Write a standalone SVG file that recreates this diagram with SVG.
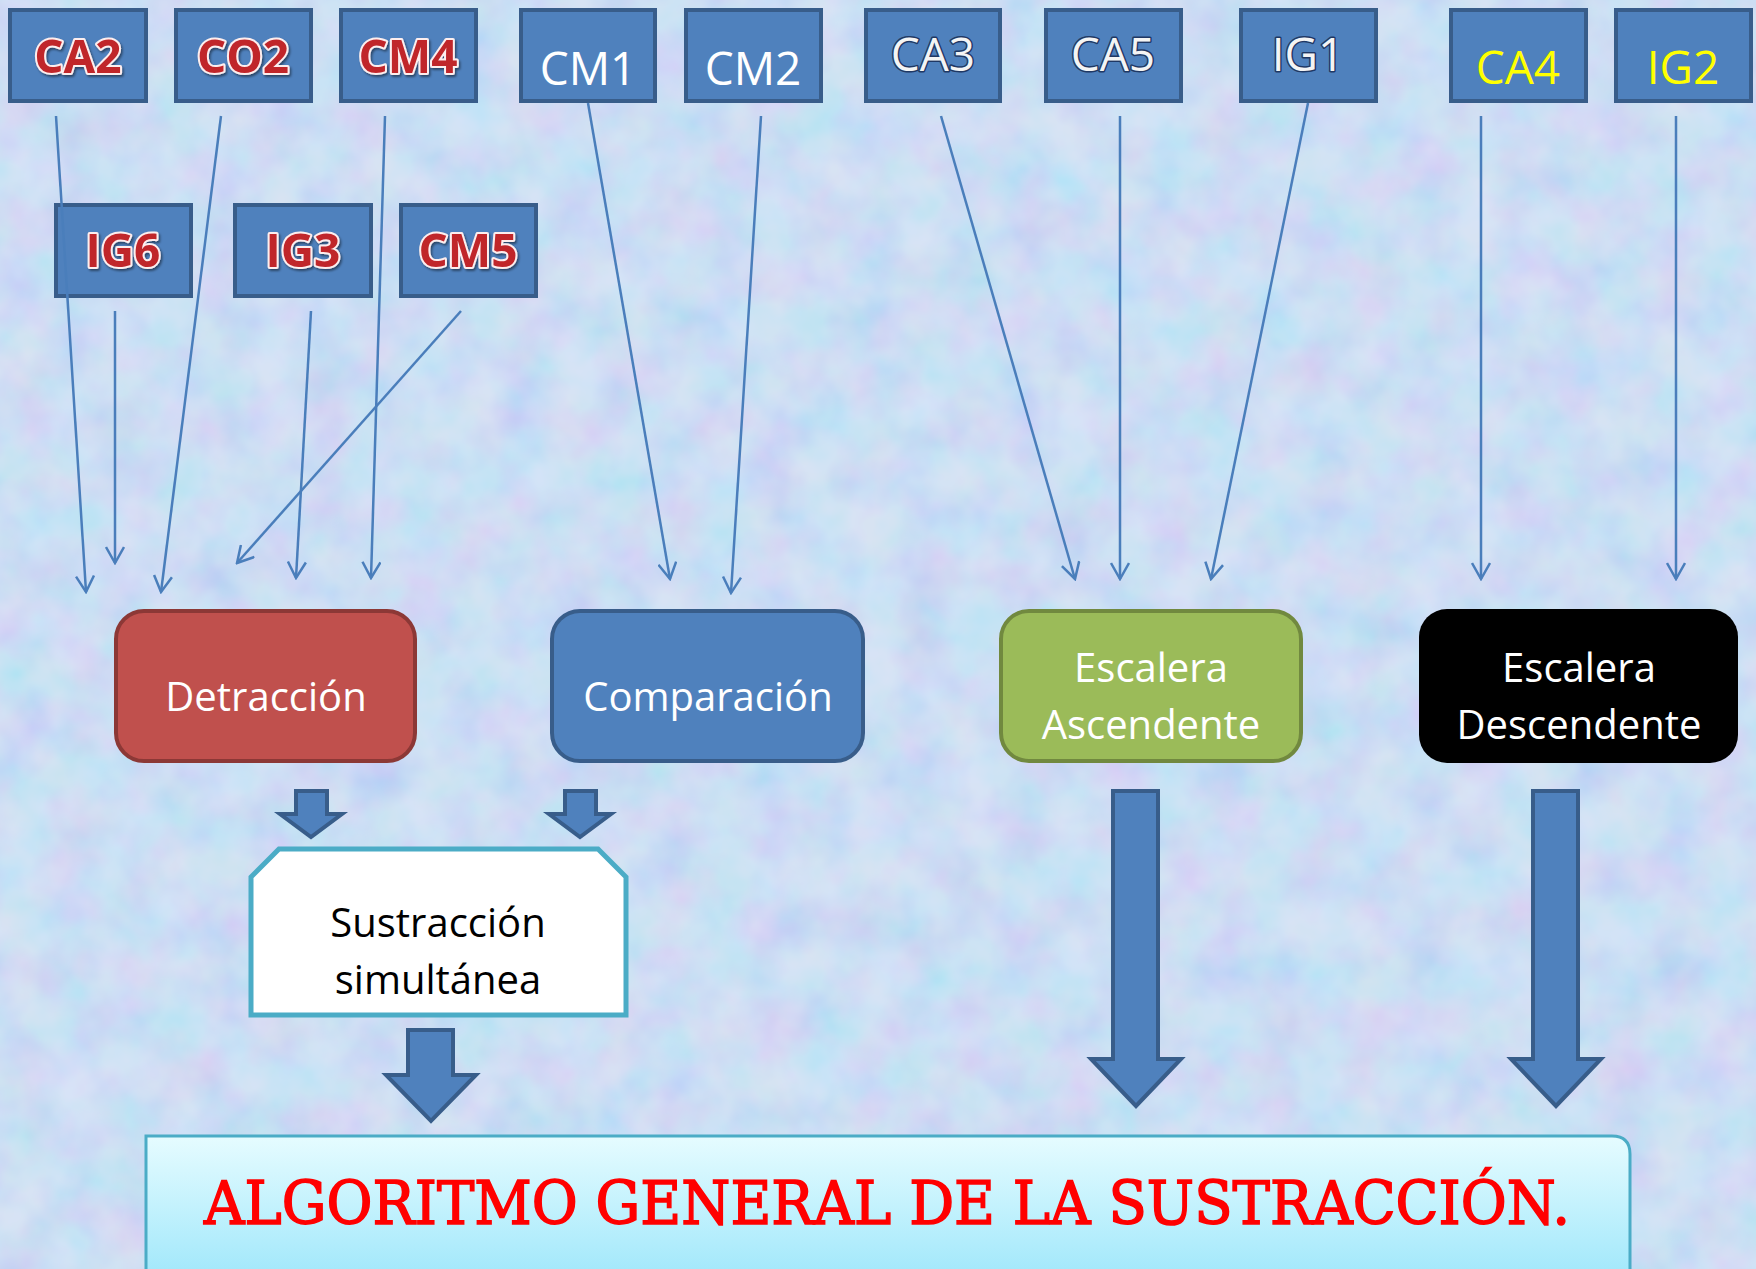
<svg xmlns="http://www.w3.org/2000/svg" width="1756" height="1269" viewBox="0 0 1756 1269">
<defs>
<filter id="tex" x="0" y="0" width="100%" height="100%" filterUnits="userSpaceOnUse">
<feTurbulence type="fractalNoise" baseFrequency="0.02" numOctaves="3" seed="7" result="n"/>
<feColorMatrix in="n" type="matrix" values="1.1 0 0 0 0.15  0 0.9 0 0 0.4  0 0 0.3 0 0.75  0 0 0 0 0.3"/>
</filter>
<filter id="wshadow" x="-20%" y="-30%" width="140%" height="160%">
<feDropShadow dx="1.5" dy="2" stdDeviation="1.2" flood-color="#000" flood-opacity="0.45"/>
</filter>
<linearGradient id="titleGrad" x1="0" y1="0" x2="0" y2="1">
<stop offset="0" stop-color="#e6fcff"/>
<stop offset="1" stop-color="#a2e8fb"/>
</linearGradient>
<marker id="open" viewBox="0 0 20 20" markerUnits="userSpaceOnUse" markerWidth="20" markerHeight="20" refX="18" refY="10" orient="auto">
<path d="M2,1 L18,10 L2,19" fill="none" stroke="#4a7ebb" stroke-width="2.5"/>
</marker>
<style>
.box{fill:#4f81bd;stroke:#385d8a;stroke-width:4}
.lbl{font-family:"Open Sans","Liberation Sans",sans-serif;font-size:46px;text-anchor:middle}
.red{font-weight:bold;fill:#c0262c;stroke:#fdeeee;stroke-width:4;paint-order:stroke fill;stroke-linejoin:round}
.wo{fill:#f4f4f4;stroke:#1f3864;stroke-width:3;paint-order:stroke fill;stroke-linejoin:round}
.wh{fill:#ffffff}
.ye{fill:#ffff00}
.node{font-family:"Open Sans","Liberation Sans",sans-serif;font-size:40px;text-anchor:middle}
.blk{fill:#4f81bd;stroke:#385d8a;stroke-width:4;stroke-linejoin:miter}
.con{fill:none;stroke:#4a7ebb;stroke-width:2.5;marker-end:url(#open)}
</style>
</defs>
<rect x="0" y="0" width="1756" height="1269" fill="#c6d7f4"/>
<rect x="0" y="0" width="1756" height="1269" filter="url(#tex)"/>

<g id="CA2"><rect class="box" x="10" y="10" width="136" height="91"/><text class="lbl red" x="78" y="73" filter="url(#wshadow)">CA2</text></g>
<g id="CO2"><rect class="box" x="176" y="10" width="135" height="91"/><text class="lbl red" x="243" y="73" filter="url(#wshadow)">CO2</text></g>
<g id="CM4"><rect class="box" x="341" y="10" width="135" height="91"/><text class="lbl red" x="408" y="73" filter="url(#wshadow)">CM4</text></g>
<g id="CM1"><rect class="box" x="521" y="10" width="134" height="91"/><text class="lbl wh" x="588" y="85">CM1</text></g>
<g id="CM2"><rect class="box" x="686" y="10" width="135" height="91"/><text class="lbl wh" x="753" y="85">CM2</text></g>
<g id="CA3"><rect class="box" x="866" y="10" width="134" height="91"/><text class="lbl wo" x="933" y="71">CA3</text></g>
<g id="CA5"><rect class="box" x="1046" y="10" width="135" height="91"/><text class="lbl wo" x="1113" y="71">CA5</text></g>
<g id="IG1"><rect class="box" x="1241" y="10" width="135" height="91"/><text class="lbl wo" x="1308" y="71">IG1</text></g>
<g id="CA4"><rect class="box" x="1451" y="10" width="135" height="91"/><text class="lbl ye" x="1518" y="84">CA4</text></g>
<g id="IG2"><rect class="box" x="1616" y="10" width="135" height="91"/><text class="lbl ye" x="1683" y="84">IG2</text></g>

<g id="IG6"><rect class="box" x="56" y="205" width="135" height="91"/><text class="lbl red" x="123" y="267" filter="url(#wshadow)">IG6</text></g>
<g id="IG3"><rect class="box" x="235" y="205" width="136" height="91"/><text class="lbl red" x="303" y="267" filter="url(#wshadow)">IG3</text></g>
<g id="CM5"><rect class="box" x="401" y="205" width="135" height="91"/><text class="lbl red" x="468" y="267" filter="url(#wshadow)">CM5</text></g>

<g id="Detraccion"><rect x="116" y="611" width="299" height="150" rx="28" ry="28" fill="#c0504d" stroke="#8c3836" stroke-width="4"/><text class="node wh" x="266" y="711">Detracción</text></g>
<g id="Comparacion"><rect x="552" y="611" width="311" height="150" rx="28" ry="28" fill="#4f81bd" stroke="#385d8a" stroke-width="4"/><text class="node wh" x="708" y="711">Comparación</text></g>
<g id="EscaleraAscendente"><rect x="1001" y="611" width="300" height="150" rx="28" ry="28" fill="#9bbb59" stroke="#71893f" stroke-width="4"/><text class="node wh" x="1151" y="682">Escalera</text><text class="node wh" x="1151" y="739">Ascendente</text></g>
<g id="EscaleraDescendente"><rect x="1419" y="609" width="319" height="154" rx="28" ry="28" fill="#000000"/><text class="node wh" x="1579" y="682">Escalera</text><text class="node wh" x="1579" y="739">Descendente</text></g>

<g id="SustraccionSimultanea"><path d="M279,849 L598,849 L626,877 L626,1015 L251,1015 L251,877 Z" fill="#ffffff" stroke="#4bacc6" stroke-width="5" stroke-linejoin="miter"/><text class="node" x="438" y="937" fill="#000">Sustracción</text><text class="node" x="438" y="994" fill="#000">simultánea</text></g>

<g id="Titulo"><path d="M146,1136 L1612,1136 Q1630,1136 1630,1154 L1630,1275 L146,1275 Z" fill="url(#titleGrad)" stroke="#4bacc6" stroke-width="3"/><text x="887" y="1224" text-anchor="middle" font-family="'DejaVu Serif','Liberation Serif',serif" font-size="60" fill="#ff0000" stroke="#ff0000" stroke-width="1.6" textLength="1366" lengthAdjust="spacingAndGlyphs">ALGORITMO GENERAL DE LA SUSTRACCIÓN.</text></g>

<g id="block-arrows">
<path class="blk" d="M296,791 L327,791 L327,814 L342,814 L311,837 L280,814 L296,814 Z"/>
<path class="blk" d="M565,791 L596,791 L596,814 L611,814 L580,837 L549,814 L565,814 Z"/>
<path class="blk" d="M408,1030 L453,1030 L453,1075 L476,1075 L431,1121 L386,1075 L408,1075 Z"/>
<path class="blk" d="M1113,791 L1158,791 L1158,1059 L1181,1059 L1136,1106 L1091,1059 L1113,1059 Z"/>
<path class="blk" d="M1533,791 L1578,791 L1578,1059 L1601,1059 L1556,1106 L1511,1059 L1533,1059 Z"/>
</g>

<g id="connectors">
<line class="con" x1="56" y1="116" x2="86" y2="592"/>
<line class="con" x1="115" y1="311" x2="115" y2="563"/>
<line class="con" x1="221" y1="116" x2="161" y2="592"/>
<line class="con" x1="461" y1="311" x2="237" y2="563"/>
<line class="con" x1="311" y1="311" x2="296" y2="578"/>
<line class="con" x1="385" y1="116" x2="371" y2="578"/>
<line class="con" x1="588" y1="103" x2="670" y2="579"/>
<line class="con" x1="761" y1="116" x2="731" y2="593"/>
<line class="con" x1="941" y1="116" x2="1075" y2="579"/>
<line class="con" x1="1120" y1="116" x2="1120" y2="579"/>
<line class="con" x1="1308" y1="103" x2="1211" y2="579"/>
<line class="con" x1="1481" y1="116" x2="1481" y2="579"/>
<line class="con" x1="1676" y1="116" x2="1676" y2="579"/>
</g>
</svg>
